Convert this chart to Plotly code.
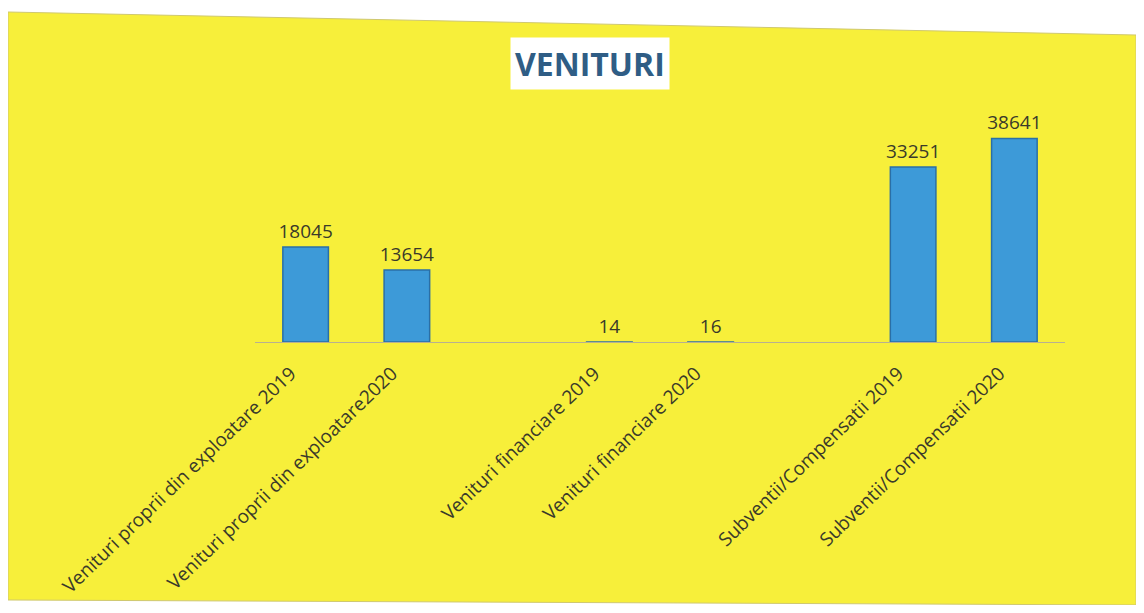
import plotly.graph_objects as go

categories = [
    "Venituri proprii din exploatare 2019",
    "Venituri proprii din exploatare2020",
    " ",
    "Venituri financiare 2019",
    "Venituri financiare 2020",
    "  ",
    "Subventii/Compensatii 2019",
    "Subventii/Compensatii 2020",
]
values = [18045, 13654, None, 14, 16, None, 33251, 38641]
value_labels = ["18045", "13654", "", "14", "16", "", "33251", "38641"]
title_text = "VENITURI"

OFF = 8  # default body margin of the html page
W, H = 1144 - 2 * OFF, 613 - 2 * OFF
L, R, T, B = 247, 71, 97, 263
pw, ph = W - L - R, H - T - B

def px_x(p):
    return (p - OFF - L) / pw

def px_y(p):
    return (H - B - (p - OFF)) / ph

fig = go.Figure()
fig.add_trace(go.Bar(
    x=categories,
    y=values,
    text=value_labels,
    textposition="outside",
    constraintext="none",
    textfont=dict(size=19, color="#3a3a2a", family="Open Sans"),
    marker=dict(color="#3d9ad8", line=dict(color="#2a6fa6", width=1.5)),
    cliponaxis=False,
))

# scanned yellow sheet (slightly tilted), kept inside the figure
corners = [(8, 12), (1136, 35), (1136, 605), (8, 600)]
path = "M " + " L ".join(f"{px_x(a):.4f},{px_y(b):.4f}" for a, b in corners) + " Z"
fig.add_shape(type="path", xref="paper", yref="paper", layer="below",
              path=path, fillcolor="#f7ef3a", line=dict(color="#cfc870", width=1))

fig.add_annotation(text="<b>" + title_text + "</b>", xref="paper", yref="paper",
                   x=px_x(590), y=px_y(64), xanchor="center", yanchor="middle",
                   showarrow=False,
                   font=dict(size=32, color="#2f5d85", family="Open Sans"),
                   bgcolor="white", borderpad=4)

fig.update_layout(
    width=W, height=H,
    margin=dict(l=L, r=R, t=T, b=B, autoexpand=False),
    paper_bgcolor="white",
    plot_bgcolor="rgba(0,0,0,0)",
    bargap=0.55,
    showlegend=False,
    xaxis=dict(
        type="category",
        automargin=False,
        tickangle=-44,
        tickfont=dict(size=19, color="#3a3a2a", family="Open Sans"),
        ticklabelstandoff=12,
        ticklabelshift=-15,
        showline=True, linecolor="#b8b090", linewidth=1,
        showgrid=False, ticks="",
    ),
    yaxis=dict(
        range=[0, 45000],
        visible=False,
        automargin=False,
        showgrid=False, zeroline=False,
    ),
)

fig.write_html("out.html")
